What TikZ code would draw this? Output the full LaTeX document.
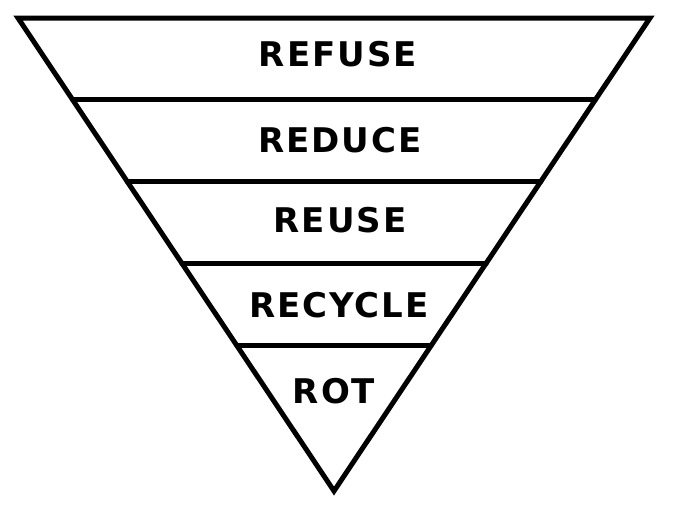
\documentclass[tikz,border=0pt]{standalone}
\usepackage{fontspec}
\setmainfont{DejaVu Sans}
\newfontfamily\levelfont[LetterSpace=6]{DejaVu Sans}
\usetikzlibrary{calc}
\tikzstyle{band}  = [line width=5pt,
                     line join=miter,
                     line cap=round]
\tikzstyle{level}=[
                   inner sep=0pt,
                   font=\levelfont\fontsize{34}{40}\selectfont\bfseries
                  ]

\begin{document}
\begin{tikzpicture}[x=1pt,y=-1pt]

  \useasboundingbox (0,0) rectangle (688,520);

  % Corners
  \coordinate (tl) at (18,18);
  \coordinate (tr) at (650,18);
  \coordinate (apex) at (334,491);

  % Outline
  \draw[band] (tl) -- (tr) -- (apex) -- cycle;

  % Dividers
  \foreach \t/\n in {0.1725/a, 0.345/b, 0.518/c, 0.6925/d} {
    \coordinate (l\n) at ($(tl)!\t!(apex)$);
    \coordinate (r\n) at ($(tr)!\t!(apex)$);
    \draw[band] (l\n) -- (r\n);
  }

  % Labels
  \node[level] (refuse) at (338,54) {REFUSE};
  \node[level] (reduce) at (340,140) {REDUCE};
  \node[level] (reuse) at (340,220) {REUSE};
  \node[level] (recycle) at (339,305) {RECYCLE};
  \node[level] (rot) at (334,391) {ROT};

\end{tikzpicture}
\end{document}
